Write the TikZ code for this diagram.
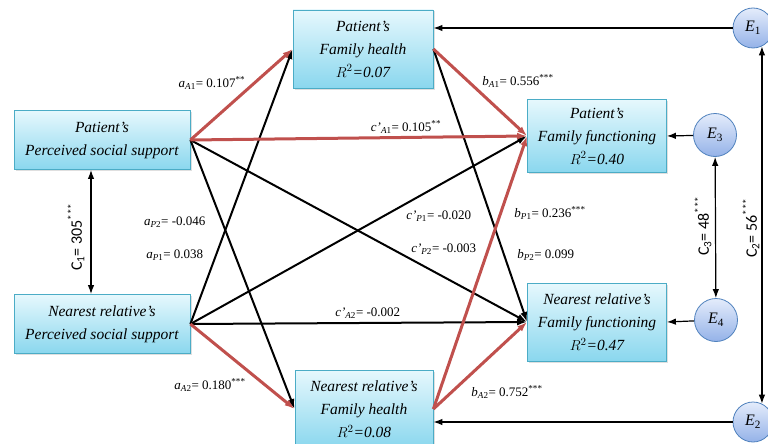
\documentclass[tikz,border=0pt]{standalone}
\usepackage{fontspec}
\setmainfont{Liberation Serif}
\newfontfamily\calibri{Carlito}
\usepackage{tikz}
\usetikzlibrary{shapes,arrows.meta,shadows}
\definecolor{boxedge}{RGB}{75,172,198}
\definecolor{boxtop}{RGB}{230,248,253}
\definecolor{boxbottom}{RGB}{138,215,238}
\definecolor{errtop}{RGB}{228,236,251}
\definecolor{errbottom}{RGB}{148,178,232}
\definecolor{erredge}{RGB}{79,129,189}
\definecolor{sigred}{RGB}{192,80,77}
\newcommand{\pathcoef}[4]{#1\textsubscript{#2}= #3\textsuperscript{#4}}
\newcommand{\covlab}[3]{C\textsubscript{#1}= #2\textsuperscript{#3}}

\begin{document}
\begin{tikzpicture}[x=1pt,y=-1pt,auto,>={Latex[length=10pt,width=7pt]}]
    \tikzstyle{block} = [draw=boxedge, shape=rectangle, line width=0.8pt, top color=boxtop, bottom color=boxbottom, align=center, font=\fontsize{15.5}{23}\selectfont\itshape, drop shadow={opacity=0.25, shadow xshift=1.5pt, shadow yshift=-1.5pt}]
    \tikzstyle{errorterm} = [draw=erredge, shape=circle, line width=0.8pt, top color=errtop, bottom color=errbottom, inner sep=0pt, font=\fontsize{16}{18}\selectfont]
    \tikzstyle{coef} = [font=\fontsize{13}{15}\selectfont, inner sep=1pt]
    \tikzstyle{cov} = [font=\fontsize{16}{18}\selectfont\calibri, rotate=90, inner sep=1pt]
    \tikzstyle{sig} = [draw=sigred, line width=3pt]
    \tikzstyle{nonsig} = [draw=black, line width=2pt]
    \tikzstyle{thin} = [draw=black, line width=1.2pt, >={Latex[length=9pt,width=6.5pt]}]
    \useasboundingbox (0,0) rectangle (768,444);
    %Creating Blocks and Error Terms
    \node [block, minimum width=176pt, minimum height=59pt] (pss_p) at (102,140) {Patient's\\Perceived social support};
    \node [block, minimum width=176pt, minimum height=59pt] (pss_n) at (102,324) {Nearest relative's\\Perceived social support};
    \node [block, minimum width=140pt, minimum height=78pt] (fh_p) at (363,49) {Patient's\\Family health\\$R^2$=0.07};
    \node [block, minimum width=138pt, minimum height=78pt] (fh_n) at (364,409) {Nearest relative's\\Family health\\$R^2$=0.08};
    \node [block, minimum width=139pt, minimum height=73pt] (ff_p) at (597,136) {Patient's\\Family functioning\\$R^2$=0.40};
    \node [block, minimum width=139pt, minimum height=78pt] (ff_n) at (597,322) {Nearest relative's\\Family functioning\\$R^2$=0.47};
    \node [errorterm, minimum size=40pt] (e_1) at (753,28) {\textit{E}\textsubscript{1}};
    \node [errorterm, minimum size=40pt] (e_2) at (753,422) {\textit{E}\textsubscript{2}};
    \node [errorterm, minimum size=43pt] (e_3) at (715,135) {\textit{E}\textsubscript{3}};
    \node [errorterm, minimum size=43pt] (e_4) at (716,320) {\textit{E}\textsubscript{4}};
    %Conecting Blocks
    \draw[->, nonsig] (pss_p.east) -- (fh_n.west);
    \draw[->, nonsig] (pss_p.east) -- (ff_n.west);
    \draw[->, nonsig] (pss_n.east) -- (fh_p.west);
    \draw[->, nonsig] (pss_n.east) -- (ff_p.west);
    \draw[->, nonsig] (pss_n.east) -- (ff_n.west);
    \draw[->, nonsig] (fh_p.east) -- (ff_n.west);

    \draw[->, sig] (pss_p.east) -- (fh_p.west);
    \draw[->, sig] (pss_p.east) -- (ff_p.west);
    \draw[->, sig] (fh_p.east) -- (ff_p.west);
    \draw[->, sig] (pss_n.east) -- (fh_n.west);
    \draw[->, sig] (fh_n.east) -- (ff_n.west);
    \draw[->, sig] (fh_n.east) -- (ff_p.west);
    %Error Terms and Covariances
    \draw[->, thin] (e_1) -- (e_1 -| fh_p.east);
    \draw[->, thin] (e_2) -- (e_2 -| fh_n.east);
    \draw[->, thin] (e_3) -- (ff_p.east);
    \draw[->, thin] (e_4) -- (ff_n.east);
    \draw[<->, thin] (e_3) -- (e_4);
    \draw[<->, thin] (e_1.-64) -- (e_2.64);
    \draw[<->, thin] ([xshift=-11pt]pss_p.south) -- ([xshift=-11pt]pss_n.north);
    %Labels
    \node [cov] (lab_c1) at (76,237) {\covlab{1}{305}{***}};
    \node [cov] (lab_c3) at (703,226) {\covlab{3}{48}{***}};
    \node [cov] (lab_c2) at (751,228) {\covlab{2}{56}{***}};
    \node [coef] (lab_aA1) at (212,83) {\pathcoef{\textit{a}}{\textit{A}1}{0.107}{**}};
    \node [coef] (lab_cA1) at (406,127) {\pathcoef{\textit{c'}}{\textit{A}1}{0.105}{**}};
    \node [coef] (lab_bA1) at (518,81) {\pathcoef{\textit{b}}{\textit{A}1}{0.556}{***}};
    \node [coef] (lab_aP2) at (175,222) {\pathcoef{\textit{a}}{\textit{P}2}{-0.046}{}};
    \node [coef] (lab_aP1) at (175,255) {\pathcoef{\textit{a}}{\textit{P}1}{0.038}{}};
    \node [coef] (lab_cP1) at (439,216) {\pathcoef{\textit{c'}}{\textit{P}1}{-0.020}{}};
    \node [coef] (lab_cP2) at (444,249) {\pathcoef{\textit{c'}}{\textit{P}2}{-0.003}{}};
    \node [coef] (lab_bP1) at (550,213) {\pathcoef{\textit{b}}{\textit{P}1}{0.236}{***}};
    \node [coef] (lab_bP2) at (546,255) {\pathcoef{\textit{b}}{\textit{P}2}{0.099}{}};
    \node [coef] (lab_cA2) at (368,313) {\pathcoef{\textit{c'}}{\textit{A}2}{-0.002}{}};
    \node [coef] (lab_aA2) at (210,385) {\pathcoef{\textit{a}}{\textit{A}2}{0.180}{***}};
    \node [coef] (lab_bA2) at (507,392) {\pathcoef{\textit{b}}{\textit{A}2}{0.752}{***}};
\end{tikzpicture}
\end{document}
